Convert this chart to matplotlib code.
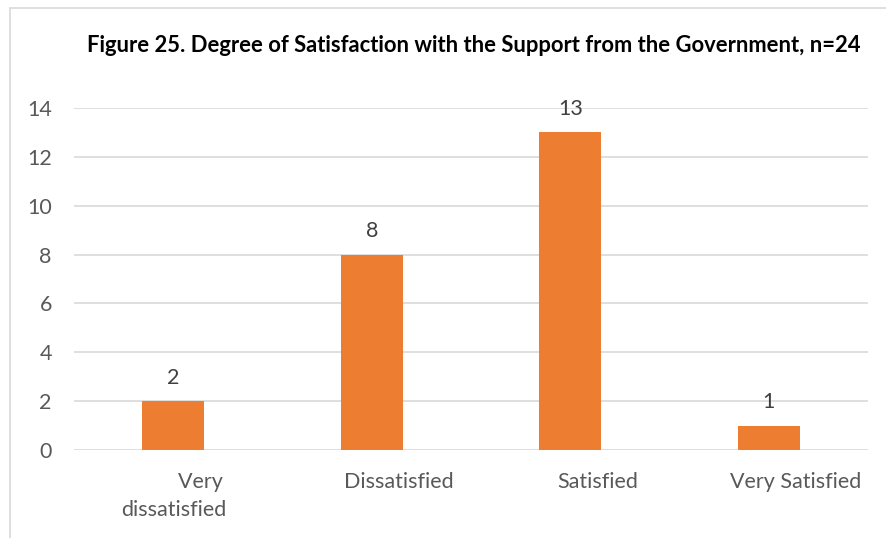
import matplotlib
matplotlib.use("Agg")
import matplotlib.pyplot as plt
import matplotlib.transforms as mtransforms
from matplotlib.patches import Rectangle

categories = ["          Very\ndissatisfied", "Dissatisfied", "Satisfied", "Very Satisfied"]
counts = [2, 8, 13, 1]
yticks = [0, 2, 4, 6, 8, 10, 12, 14]
title = "Figure 25. Degree of Satisfaction with the Support from the Government, n=24"

plt.rcParams['font.family'] = ['Lato', 'DejaVu Sans']

fig = plt.figure(figsize=(8.87, 5.38), dpi=100)
ax = fig.add_axes([74 / 887, 1 - 450 / 538, 794 / 887, 342 / 538])

# outer chart frame (right/bottom edges run off the image)
fig.patches.append(Rectangle((10 / 887, -0.1), 1.2, 1 - 8 / 538 + 0.1,
                             transform=fig.transFigure, fill=False,
                             edgecolor='#d9d9d9', linewidth=1.2, zorder=0))

x = range(len(counts))
bars = ax.bar(x, counts, width=0.31, color='#ED7D31', zorder=3)

for b, v in zip(bars, counts):
    ax.annotate(str(v), (b.get_x() + b.get_width() / 2, v),
                xytext=(0, 9.5), textcoords='offset points',
                ha='center', va='bottom', fontsize=15.5, color='#404040')

ax.set_xlim(-0.5, len(counts) - 0.5)
ax.set_ylim(0, 14)
ax.set_yticks(yticks)
ax.set_xticks(list(x))
ax.set_xticklabels(categories, fontsize=15.5, color='#595959', linespacing=1.5)
ax.tick_params(axis='y', labelsize=15.5, labelcolor='#595959', length=0, pad=16)
ax.tick_params(axis='x', length=0, pad=15.5)

# category labels sit a little right of the bars
shift = mtransforms.ScaledTranslation(27 / 100, 0, fig.dpi_scale_trans)
for lab in ax.get_xticklabels()[1:]:
    lab.set_transform(lab.get_transform() + shift)

ax.grid(axis='y', color='#d9d9d9', linewidth=1.2, zorder=0)
for s in ax.spines.values():
    s.set_visible(False)

fig.text(474 / 887, 1 - 45 / 538, title, ha='center', va='center',
         fontsize=15.8, fontweight='bold', color='#000000')

fig.savefig('out.png', dpi=100)
